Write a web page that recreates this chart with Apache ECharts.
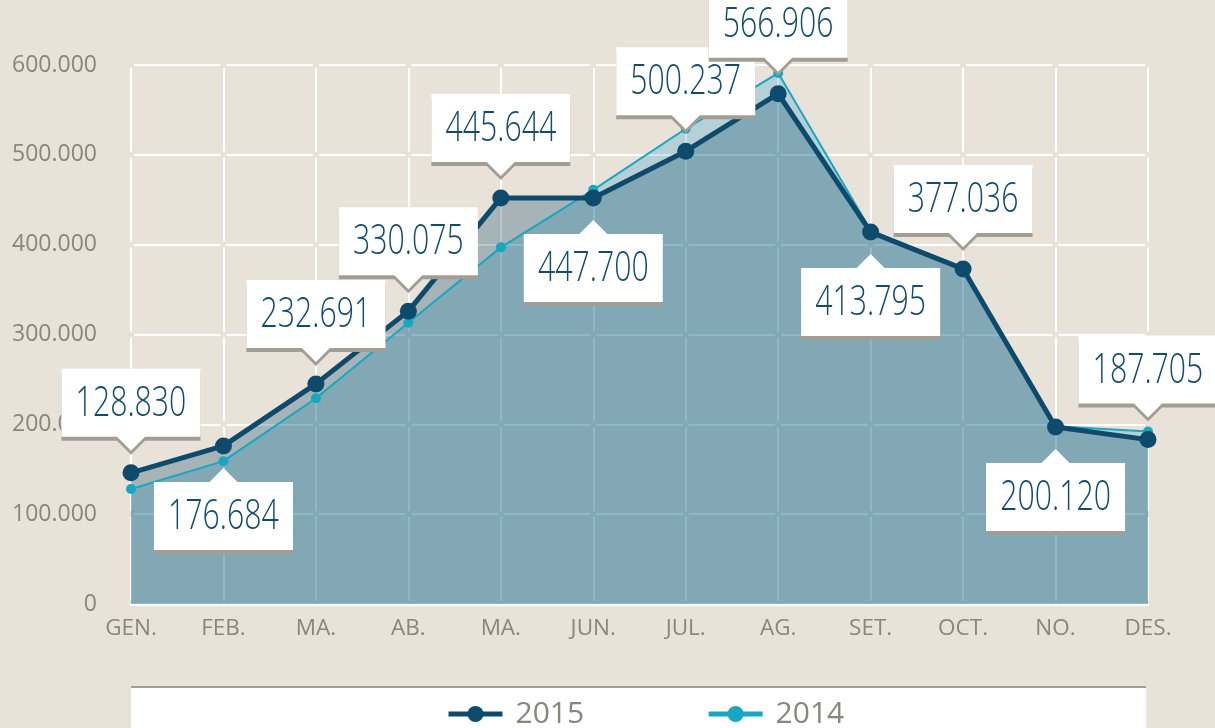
<!DOCTYPE html>
<html>
<head>
<meta charset="utf-8">
<script src="https://cdn.jsdelivr.net/npm/echarts@6/dist/echarts.min.js"></script>
<style>
  html, body { margin: 0; padding: 0; background: #e8e2d9; }
  #chart { width: 1215px; height: 728px; }
</style>
</head>
<body>
<div id="chart"></div>
<script>
const months = ['GEN.', 'FEB.', 'MA.', 'AB.', 'MA.', 'JUN.', 'JUL.', 'AG.', 'SET.', 'OCT.', 'NO.', 'DES.'];
const values2015 = [146000, 176000, 245000, 326000, 452000, 452000, 504000, 568000, 414000, 373000, 197000, 183000];
const values2014 = [128000, 159000, 229000, 313000, 397000, 461000, 529000, 591000, 416000, 372000, 198000, 192000];
const calloutText = ['128.830', '176.684', '232.691', '330.075', '445.644', '447.700', '500.237', '566.906', '413.795', '377.036', '200.120', '187.705'];
const calloutSide = ['top', 'bottom', 'top', 'top', 'top', 'bottom', 'top', 'top', 'bottom', 'top', 'bottom', 'top'];

const NAVY = '#0d4a6b';
const CYAN = '#17a7c2';
const GREY = '#8a857d';

const fmt = v => v === 0 ? '0' : String(v).replace(/\B(?=(\d{3})+(?!\d))/g, '.');

// callout: white box with a small pointer towards the 2015 point
const BOX_W = 139, BOX_H = 68, TIP_W = 14, TIP_H = 14, GAP = 22;

function renderCallout(params, api) {
  const i = params.dataIndex;
  const pt = api.coord([api.value(0), api.value(1)]);
  const x = pt[0];
  const up = calloutSide[i] === 'top';
  let pts, cy;
  if (up) {
    const tip = pt[1] - GAP, bot = tip - TIP_H, top = bot - BOX_H;
    pts = [[x - BOX_W / 2, top], [x + BOX_W / 2, top], [x + BOX_W / 2, bot], [x + TIP_W, bot], [x, tip], [x - TIP_W, bot], [x - BOX_W / 2, bot]];
    cy = (top + bot) / 2;
  } else {
    const tip = pt[1] + GAP, top = tip + TIP_H, bot = top + BOX_H;
    pts = [[x - BOX_W / 2, top], [x - TIP_W, top], [x, tip], [x + TIP_W, top], [x + BOX_W / 2, top], [x + BOX_W / 2, bot], [x - BOX_W / 2, bot]];
    cy = (top + bot) / 2;
  }
  const shadow = pts.map(p => [p[0], p[1] + 4]);
  return {
    type: 'group',
    children: [
      { type: 'polygon', shape: { points: shadow }, style: { fill: '#a29e95' } },
      { type: 'polygon', shape: { points: pts }, style: { fill: '#fff' } },
      {
        type: 'text', x: x, y: cy + 1, scaleX: 0.72,
        style: {
          text: calloutText[i], x: 0, y: 0,
          fill: '#124c6c', fontSize: 42, fontWeight: 300, fontFamily: 'Open Sans',
          align: 'center', verticalAlign: 'middle'
        }
      }
    ]
  };
}

const chart = echarts.init(document.getElementById('chart'), null, { renderer: 'canvas' });

chart.setOption({
  backgroundColor: '#e8e2d9',
  animation: false,
  grid: { left: 131, right: 67, top: 65, bottom: 124 },
  legend: {
    data: ['2015', '2014'],
    left: 441,
    top: 694,
    itemWidth: 54,
    itemHeight: 20,
    itemGap: 122,
    textStyle: { color: GREY, fontSize: 30, fontFamily: 'Open Sans', padding: [0, 0, 0, 8] },
    lineStyle: { width: 5 }
  },
  graphic: [
    { type: 'rect', left: 131, top: 687, shape: { width: 1015, height: 50 }, style: { fill: '#fff' }, z: -1 },
    { type: 'rect', left: 131, top: 686, shape: { width: 1015, height: 2 }, style: { fill: '#a29e95' }, z: -1 }
  ],
  xAxis: {
    type: 'category',
    data: months,
    boundaryGap: false,
    axisLine: { lineStyle: { color: '#fff', width: 3 } },
    axisTick: { show: false },
    axisLabel: { color: GREY, fontSize: 22.5, fontFamily: 'Open Sans', margin: 13 },
    splitLine: { show: true, lineStyle: { color: '#fff', width: 2, type: [83.8, 6], dashOffset: 86.8 } }
  },
  yAxis: {
    type: 'value',
    min: 0,
    max: 600000,
    interval: 100000,
    axisLine: { show: false },
    axisTick: { show: false },
    axisLabel: { color: GREY, fontSize: 23, fontFamily: 'Open Sans', margin: 34, formatter: fmt },
    splitLine: { lineStyle: { color: '#fff', width: 2, type: [86.45, 6], dashOffset: 89.45 } }
  },
  series: [
    {
      name: '2014 area', type: 'line', data: values2014, symbol: 'none', silent: true, z: 1,
      lineStyle: { width: 0, opacity: 0 },
      areaStyle: { color: 'rgb(0,150,210)', opacity: 0.22 }
    },
    {
      name: '2015 area', type: 'line', data: values2015, symbol: 'none', silent: true, z: 1,
      lineStyle: { width: 0, opacity: 0 },
      areaStyle: { color: NAVY, opacity: 0.3 }
    },
    {
      name: '2014', type: 'line', data: values2014, z: 2,
      symbol: 'circle', symbolSize: 10,
      lineStyle: { color: CYAN, width: 2 },
      itemStyle: { color: CYAN }
    },
    {
      name: '2015', type: 'line', data: values2015, z: 3,
      symbol: 'circle', symbolSize: 17,
      lineStyle: { color: NAVY, width: 5 },
      itemStyle: { color: NAVY }
    },
    {
      name: 'callouts', type: 'custom', z: 4, silent: true, clip: false,
      renderItem: renderCallout,
      data: values2015.map((v, i) => [i, v])
    }
  ]
});
</script>
</body>
</html>
